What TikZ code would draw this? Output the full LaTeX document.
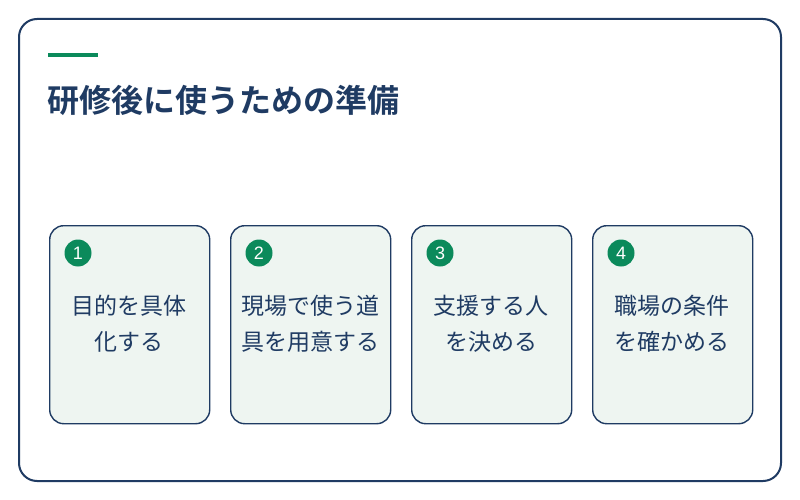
\documentclass[tikz,border=0pt]{standalone}
\usepackage{fontspec}
\newfontfamily\cjk{Noto Sans CJK JP}
\newfontfamily\cjkbold{Noto Sans CJK JP Bold}
\definecolor{navy}{HTML}{1F3B63}
\definecolor{accent}{HTML}{0B8A5B}
\definecolor{cardfill}{HTML}{EEF5F1}
\tikzset{
  frame/.style={draw=navy, line width=2pt, rounded corners=18pt, fill=white},
  card/.style={draw=navy, line width=1.4pt, rounded corners=14pt, fill=cardfill, minimum width=160pt, minimum height=198pt, inner sep=0pt, anchor=north west},
  numdot/.style={circle, fill=accent, minimum size=27pt, inner sep=0pt, text=white, font=\fontspec{Liberation Sans}\fontsize{18pt}{18pt}\selectfont},
  cardtext/.style={text=navy, align=center, font=\cjk\fontsize{23pt}{36pt}\selectfont, inner sep=0pt},
}
\begin{document}
\begin{tikzpicture}[x=1pt,y=-1pt]
\useasboundingbox (0,0) rectangle (800,500);
\fill[white] (0,0) rectangle (800,500);
\draw[frame] (19,19) rectangle (781,481);
\fill[accent] (48,53) rectangle (98,57.5);
\node[anchor=base west, inner sep=0pt, text=navy, font=\cjkbold\fontsize{32pt}{34pt}\selectfont] (title) at (47,113) {研修後に使うための準備};
\foreach \i/\x/\t in {1/49/{目的を具体\\化する},2/230/{現場で使う道\\具を用意する},3/411/{支援する人\\を決める},4/592/{職場の条件\\を確かめる}}{
  \node[card] (c\i) at (\x,225) {};
  \node[numdot] (n\i) at (\x+29,253) {\i};
  \node[cardtext] (t\i) at (\x+80,324) {\t};
}
\end{tikzpicture}
\end{document}
